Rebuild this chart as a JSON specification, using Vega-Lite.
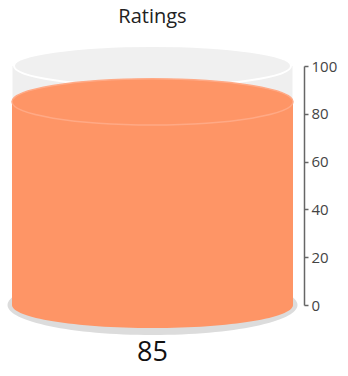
{
  "$schema": "https://vega.github.io/schema/vega-lite/v6.json",
  "width": 303,
  "height": 239,
  "autosize": "none",
  "padding": {"left": 1, "top": 66, "right": 44, "bottom": 71},
  "background": "white",
  "title": {
    "text": "Ratings",
    "fontSize": 20,
    "font": "Open Sans",
    "fontWeight": "normal",
    "color": "#222222",
    "anchor": "middle",
    "frame": "group",
    "offset": 15
  },
  "data": {"values": [{"label": "Ratings", "value": 85, "min": 0, "max": 100}]},
  "encoding": {
    "x": {"field": "label", "type": "nominal", "axis": null, "scale": {"paddingInner": 0, "paddingOuter": 0}}
  },
  "layer": [
    {
      "mark": {"type": "point", "filled": true, "shape": "M -1 0 A 1 0.207 0 1 0 1 0 A 1 0.207 0 1 0 -1 0 Z", "size": 84100, "color": "#dcdcdc", "opacity": 1, "strokeWidth": 0},
      "encoding": {"y": {"field": "min", "type": "quantitative", "scale": {"domain": [0, 100], "nice": false}, "axis": {"orient": "right", "title": null, "values": [0, 20, 40, 60, 80, 100], "grid": false, "domainColor": "#666666", "domainWidth": 1.5, "tickColor": "#666666", "tickSize": 4, "tickWidth": 1.5, "labelFont": "Open Sans", "labelFontSize": 15, "labelColor": "#444444", "labelPadding": 3}}}
    },
    {
      "mark": {"type": "bar", "width": 280, "color": "#efefef", "opacity": 1},
      "encoding": {
        "y": {"field": "max", "type": "quantitative", "scale": {"domain": [0, 100], "nice": false}, "axis": {"orient": "right", "title": null, "values": [0, 20, 40, 60, 80, 100], "grid": false, "domainColor": "#666666", "domainWidth": 1.5, "tickColor": "#666666", "tickSize": 4, "tickWidth": 1.5, "labelFont": "Open Sans", "labelFontSize": 15, "labelColor": "#444444", "labelPadding": 3}},
        "y2": {"field": "min"}
      }
    },
    {
      "mark": {"type": "point", "filled": true, "shape": "M -1 0 A 1 0.145 0 1 0 1 0 A 1 0.145 0 1 0 -1 0 Z", "size": 76729, "fill": "#f0f0f0", "stroke": "#ffffff", "strokeWidth": 2, "opacity": 1, "strokeOpacity": 1},
      "encoding": {"y": {"field": "max", "type": "quantitative", "scale": {"domain": [0, 100], "nice": false}, "axis": {"orient": "right", "title": null, "values": [0, 20, 40, 60, 80, 100], "grid": false, "domainColor": "#666666", "domainWidth": 1.5, "tickColor": "#666666", "tickSize": 4, "tickWidth": 1.5, "labelFont": "Open Sans", "labelFontSize": 15, "labelColor": "#444444", "labelPadding": 3}}}
    },
    {
      "mark": {"type": "point", "filled": true, "shape": "M -1 0 A 1 0.164 0 1 0 1 0 A 1 0.164 0 1 0 -1 0 Z", "size": 78961, "color": "#fe9566", "opacity": 1, "strokeWidth": 0},
      "encoding": {"y": {"field": "min", "type": "quantitative", "scale": {"domain": [0, 100], "nice": false}, "axis": {"orient": "right", "title": null, "values": [0, 20, 40, 60, 80, 100], "grid": false, "domainColor": "#666666", "domainWidth": 1.5, "tickColor": "#666666", "tickSize": 4, "tickWidth": 1.5, "labelFont": "Open Sans", "labelFontSize": 15, "labelColor": "#444444", "labelPadding": 3}}}
    },
    {
      "mark": {"type": "bar", "width": 281, "color": "#fe9566", "opacity": 1},
      "encoding": {
        "y": {"field": "value", "type": "quantitative", "scale": {"domain": [0, 100], "nice": false}, "axis": {"orient": "right", "title": null, "values": [0, 20, 40, 60, 80, 100], "grid": false, "domainColor": "#666666", "domainWidth": 1.5, "tickColor": "#666666", "tickSize": 4, "tickWidth": 1.5, "labelFont": "Open Sans", "labelFontSize": 15, "labelColor": "#444444", "labelPadding": 3}},
        "y2": {"field": "min"}
      }
    },
    {
      "mark": {"type": "point", "filled": true, "shape": "M -1 0 A 1 0.164 0 1 0 1 0 A 1 0.164 0 1 0 -1 0 Z", "size": 78961, "fill": "#fe9566", "stroke": "#ffa985", "strokeWidth": 1.5, "opacity": 1, "strokeOpacity": 1},
      "encoding": {"y": {"field": "value", "type": "quantitative", "scale": {"domain": [0, 100], "nice": false}, "axis": {"orient": "right", "title": null, "values": [0, 20, 40, 60, 80, 100], "grid": false, "domainColor": "#666666", "domainWidth": 1.5, "tickColor": "#666666", "tickSize": 4, "tickWidth": 1.5, "labelFont": "Open Sans", "labelFontSize": 15, "labelColor": "#444444", "labelPadding": 3}}}
    },
    {
      "mark": {"type": "text", "font": "Open Sans", "fontSize": 27, "color": "#111111", "baseline": "alphabetic", "align": "center", "dy": 56},
      "encoding": {
        "y": {"field": "min", "type": "quantitative", "scale": {"domain": [0, 100], "nice": false}, "axis": {"orient": "right", "title": null, "values": [0, 20, 40, 60, 80, 100], "grid": false, "domainColor": "#666666", "domainWidth": 1.5, "tickColor": "#666666", "tickSize": 4, "tickWidth": 1.5, "labelFont": "Open Sans", "labelFontSize": 15, "labelColor": "#444444", "labelPadding": 3}},
        "text": {"field": "value", "type": "quantitative"}
      }
    }
  ],
  "config": {"view": {"stroke": null}}
}
